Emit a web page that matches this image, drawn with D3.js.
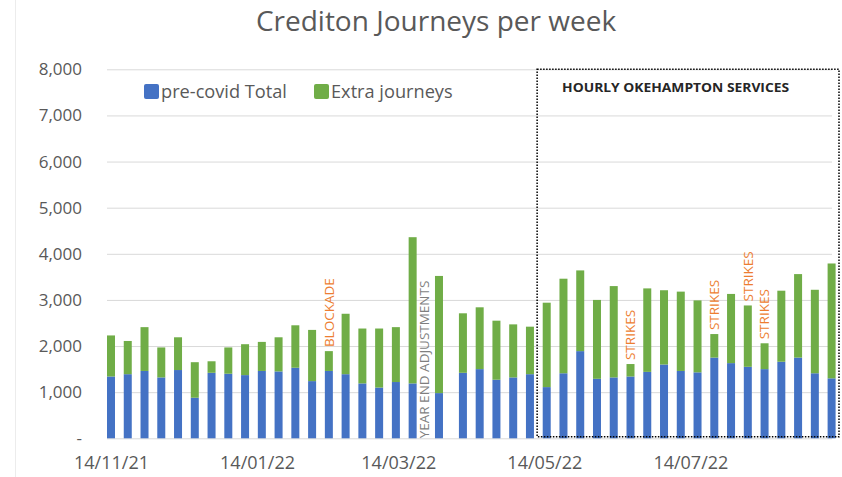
<!DOCTYPE html>
<html>
<head>
<meta charset="utf-8">
<script src="https://cdnjs.cloudflare.com/ajax/libs/d3/7.8.5/d3.min.js"></script>
<style>
  body { margin: 0; background: #fff; }
  text { font-family: "Open Sans", sans-serif; }
</style>
</head>
<body>
<div id="chart"></div>
<script>
// week dates (one irregular week at year end)
var weekDates = [
  "2021-11-14","2021-11-21","2021-11-28","2021-12-05","2021-12-12","2021-12-19","2021-12-26",
  "2022-01-02","2022-01-09","2022-01-16","2022-01-23","2022-01-30","2022-02-06","2022-02-13",
  "2022-02-20","2022-02-27","2022-03-06","2022-03-13","2022-03-20","2022-03-31","2022-04-10",
  "2022-04-17","2022-04-24","2022-05-01","2022-05-08","2022-05-15","2022-05-22","2022-05-29",
  "2022-06-05","2022-06-12","2022-06-19","2022-06-26","2022-07-03","2022-07-10","2022-07-17",
  "2022-07-24","2022-07-31","2022-08-07","2022-08-14","2022-08-21","2022-08-28","2022-09-04",
  "2022-09-11"
];
var preCovid = [
  1340,1390,1460,1320,1480,880,1420,1400,1370,1460,1450,1530,1240,1460,
  1390,1190,1100,1220,1190,980,1420,1500,1270,1320,1390,1110,1410,1890,
  1290,1320,1340,1440,1600,1460,1430,1750,1630,1550,1500,1660,1750,1410,1300
];
var extra = [
  890,720,950,650,710,770,250,570,670,630,740,920,1110,430,
  1310,1190,1280,1190,3170,2540,1290,1340,1280,1150,1030,1830,2050,1750,
  1710,1980,270,1810,1610,1720,1560,510,1500,1330,560,1540,1810,1810,2490
];
var seriesNames = ["pre-covid Total", "Extra journeys"];
var seriesColors = ["#4472C4", "#70AD47"];
var xTickDates = ["2021-11-14","2022-01-14","2022-03-14","2022-05-14","2022-07-14"];
var yTicks = [0,1000,2000,3000,4000,5000,6000,7000,8000];

// labels above bars
var barNotes = [
  { date: "2022-02-13", text: "BLOCKADE" },
  { date: "2022-06-19", text: "STRIKES" },
  { date: "2022-07-24", text: "STRIKES" },
  { date: "2022-08-07", text: "STRIKES" },
  { date: "2022-08-14", text: "STRIKES" }
];
var yearEndNote = { date: "2022-03-25", text: "YEAR END ADJUSTMENTS" };
var boxStart = "2022-05-11";
var boxTitle = "HOURLY OKEHAMPTON SERVICES";

var svgWidth = 842;
var svgHeight = 477;

var parse = d3.timeParse("%Y-%m-%d");

var data = weekDates.map(function(d, i) {
  return { date: parse(d), pre: preCovid[i], extra: extra[i] };
});

var svg = d3.select("#chart")
  .append("svg")
  .attr("width", svgWidth)
  .attr("height", svgHeight);

// faint frame edge on the left
svg.append("line")
  .attr("x1", 15.5).attr("x2", 15.5)
  .attr("y1", 0).attr("y2", svgHeight)
  .attr("stroke", "#ececec");

var x = d3.scaleTime()
  .domain([data[0].date, data[data.length - 1].date])
  .range([111, 831.6]);

var y = d3.scaleLinear()
  .domain([0, 8000])
  .range([438.3, 69.3]);

var plotLeft = 107, plotRight = 832;

// y axis + gridlines
var yAxis = svg.append("g")
  .attr("transform", `translate(${plotLeft}, 0)`)
  .call(d3.axisLeft(y)
    .tickValues(yTicks)
    .tickSize(-(plotRight - plotLeft))
    .tickPadding(25)
    .tickFormat(function(d) { return d === 0 ? "-" : d3.format(",")(d); }));

yAxis.select(".domain").remove();
yAxis.selectAll(".tick line").attr("stroke", "#d9d9d9");
yAxis.selectAll(".tick text")
  .attr("fill", "#595959")
  .style("font-size", "17px")
  .style("font-family", "Open Sans");

// x axis
var xAxis = svg.append("g")
  .attr("transform", `translate(0, ${y(0)})`)
  .call(d3.axisBottom(x)
    .tickValues(xTickDates.map(parse))
    .tickSize(0)
    .tickPadding(18)
    .tickFormat(d3.timeFormat("%d/%m/%y")));

xAxis.select(".domain").remove();
xAxis.selectAll(".tick text")
  .attr("fill", "#595959")
  .style("font-size", "18px")
  .style("font-family", "Open Sans");

// stacked bars
var stack = d3.stack().keys(["pre", "extra"]);
var layers = stack(data);
var barW = 8;

svg.selectAll(".layer")
  .data(layers)
  .enter()
  .append("g")
  .attr("fill", function(d, i) { return seriesColors[i]; })
  .selectAll("rect")
  .data(function(d) { return d; })
  .enter()
  .append("rect")
  .attr("x", function(d) { return x(d.data.date) - barW / 2; })
  .attr("y", function(d) { return y(d[1]); })
  .attr("width", barW)
  .attr("height", function(d) { return y(d[0]) - y(d[1]); });

// notes above bars
var byDate = {};
data.forEach(function(d, i) { byDate[weekDates[i]] = d; });

barNotes.forEach(function(n) {
  var d = byDate[n.date];
  svg.append("text")
    .attr("transform", `translate(${x(d.date)}, ${y(d.pre + d.extra) - 4}) rotate(-90)`)
    .attr("dy", "0.35em")
    .attr("fill", "#ED7D31")
    .style("font-size", "13.5px")
    .text(n.text);
});

svg.append("text")
  .attr("transform", `translate(${x(parse(yearEndNote.date))}, ${y(0)}) rotate(-90)`)
  .attr("dy", "0.35em")
  .attr("fill", "#7f7f7f")
  .style("font-size", "13.5px")
  .text(yearEndNote.text);

// dotted box
var bx = x(parse(boxStart));
svg.append("rect")
  .attr("x", bx)
  .attr("y", y(8000))
  .attr("width", 839 - bx)
  .attr("height", y(0) - y(8000) - 1.5)
  .attr("fill", "none")
  .attr("stroke", "#000")
  .attr("stroke-width", 1.5)
  .attr("stroke-dasharray", "1.5,1.5");

svg.append("text")
  .attr("x", bx + 25)
  .attr("y", 92)
  .attr("fill", "#262626")
  .style("font-size", "12px")
  .style("font-weight", "bold")
  .attr("textLength", 227)
  .attr("lengthAdjust", "spacingAndGlyphs")
  .text(boxTitle);

// title
svg.append("text")
  .attr("x", 436)
  .attr("y", 31)
  .attr("text-anchor", "middle")
  .attr("fill", "#595959")
  .style("font-size", "28px")
  .text("Crediton Journeys per week");

// legend
var legendX = [144, 314];
seriesNames.forEach(function(name, i) {
  svg.append("rect")
    .attr("x", legendX[i])
    .attr("y", 84)
    .attr("width", 15)
    .attr("height", 15)
    .attr("rx", 2)
    .attr("fill", seriesColors[i]);
  svg.append("text")
    .attr("x", legendX[i] + 17)
    .attr("y", 92)
    .attr("dy", "0.35em")
    .attr("fill", "#595959")
    .style("font-size", "18.2px")
    .text(name);
});
</script>
</body>
</html>
